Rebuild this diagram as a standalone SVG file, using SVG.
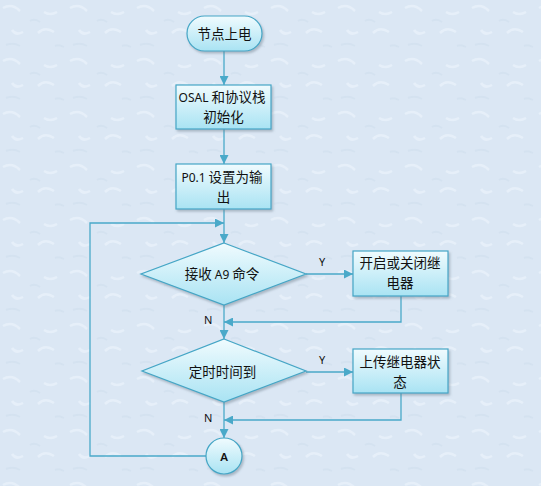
<svg xmlns="http://www.w3.org/2000/svg" width="541" height="486" viewBox="0 0 541 486">
<defs>
<linearGradient id="g" x1="0" y1="0" x2="0" y2="1">
<stop offset="0" stop-color="#f0fbfe"/>
<stop offset="1" stop-color="#a9e3f3"/>
</linearGradient>
<filter id="sh" x="-20%" y="-20%" width="150%" height="160%">
<feDropShadow dx="1.5" dy="2" stdDeviation="1.2" flood-color="#6b7c8a" flood-opacity="0.45"/>
</filter>
<marker id="ah" viewBox="0 0 10 10" refX="10" refY="5" markerWidth="9" markerHeight="9" markerUnits="userSpaceOnUse" orient="auto">
<path d="M0,0 L10,5 L0,10 z" fill="#4aa9c9"/>
</marker>
<pattern id="tex" width="67" height="53" patternUnits="userSpaceOnUse">
<rect width="67" height="53" fill="#dbe7f4"/>
<path d="M3,8 q9,-5 17,3 M38,33 q7,-7 16,-1 M12,30 q4,6 11,2 M44,12 q6,4 13,0" stroke="#e9f1fa" stroke-width="2.5" fill="none" opacity="0.8"/>
<path d="M6,45 q7,-3 14,1 M30,21 q5,-3 10,1 M55,46 q4,-2 9,1" stroke="#d2e0ef" stroke-width="2" fill="none" opacity="0.7"/>
</pattern>
</defs>
<style>
.n{fill:url(#g);stroke:#45a6c6;stroke-width:1.2;filter:url(#sh)}
.t{font-family:"Noto Sans CJK SC","Noto Sans",sans-serif;font-size:13.5px;fill:#111;text-anchor:middle}
.l{font-family:"Noto Sans","Liberation Sans",sans-serif;font-size:11px;fill:#111}
.sm{font-family:"Noto Sans","Liberation Sans",sans-serif;font-size:12px}
.c{fill:none;stroke:#4aa9c9;stroke-width:1.3}
</style>
<rect width="541" height="486" fill="url(#tex)"/>
<g id="connectors">
<path class="c" d="M224,51 V85" marker-end="url(#ah)"/>
<path class="c" d="M224,129 V164" marker-end="url(#ah)"/>
<path class="c" d="M224,209 V243" marker-end="url(#ah)"/>
<path class="c" d="M206,456 H90 V223 H224" marker-end="url(#ah)"/>
<path class="c" d="M306,274 H353" marker-end="url(#ah)"/>
<path class="c" d="M401,296 V322 H224" marker-end="url(#ah)"/>
<path class="c" d="M224,305 V339" marker-end="url(#ah)"/>
<path class="c" d="M306,372 H353" marker-end="url(#ah)"/>
<path class="c" d="M401,393 V420 H224" marker-end="url(#ah)"/>
<path class="c" d="M224,402 V438" marker-end="url(#ah)"/>
<text class="l" x="319" y="266">Y</text>
<text class="l" x="204" y="324">N</text>
<text class="l" x="319" y="364">Y</text>
<text class="l" x="204" y="422">N</text>
</g>
<g id="start">
<rect class="n" x="187" y="16" width="75" height="35" rx="17.5"/>
<text class="t" x="224.5" y="38.5">节点上电</text>
</g>
<g id="init">
<rect class="n" x="176" y="85" width="95" height="44"/>
<text class="t" x="222" y="101.5"><tspan class="sm">OSAL</tspan> 和协议栈</text>
<text class="t" x="223.5" y="121.5">初始化</text>
</g>
<g id="p01">
<rect class="n" x="176" y="164" width="95" height="45"/>
<text class="t" x="222" y="182"><tspan class="sm">P0.1</tspan> 设置为输</text>
<text class="t" x="223.5" y="202">出</text>
</g>
<g id="recv">
<polygon class="n" points="224,243 306,274 224,305 141,274"/>
<text class="t" x="222" y="279"><tspan>接收 </tspan><tspan class="sm">A9</tspan><tspan> 命令</tspan></text>
</g>
<g id="relay">
<rect class="n" x="353" y="251" width="95" height="45"/>
<text class="t" x="400" y="268">开启或关闭继</text>
<text class="t" x="400" y="288">电器</text>
</g>
<g id="timer">
<polygon class="n" points="224,339 306,371 224,402 142,371"/>
<text class="t" x="222.5" y="377">定时时间到</text>
</g>
<g id="upload">
<rect class="n" x="353" y="349" width="95" height="44"/>
<text class="t" x="400" y="367">上传继电器状</text>
<text class="t" x="400" y="387">态</text>
</g>
<g id="connA">
<circle class="n" cx="224" cy="456" r="18"/>
<text class="t" x="224" y="460.5" style="font-family:'Noto Sans',sans-serif;font-size:11.5px;font-weight:600">A</text>
</g>
</svg>
